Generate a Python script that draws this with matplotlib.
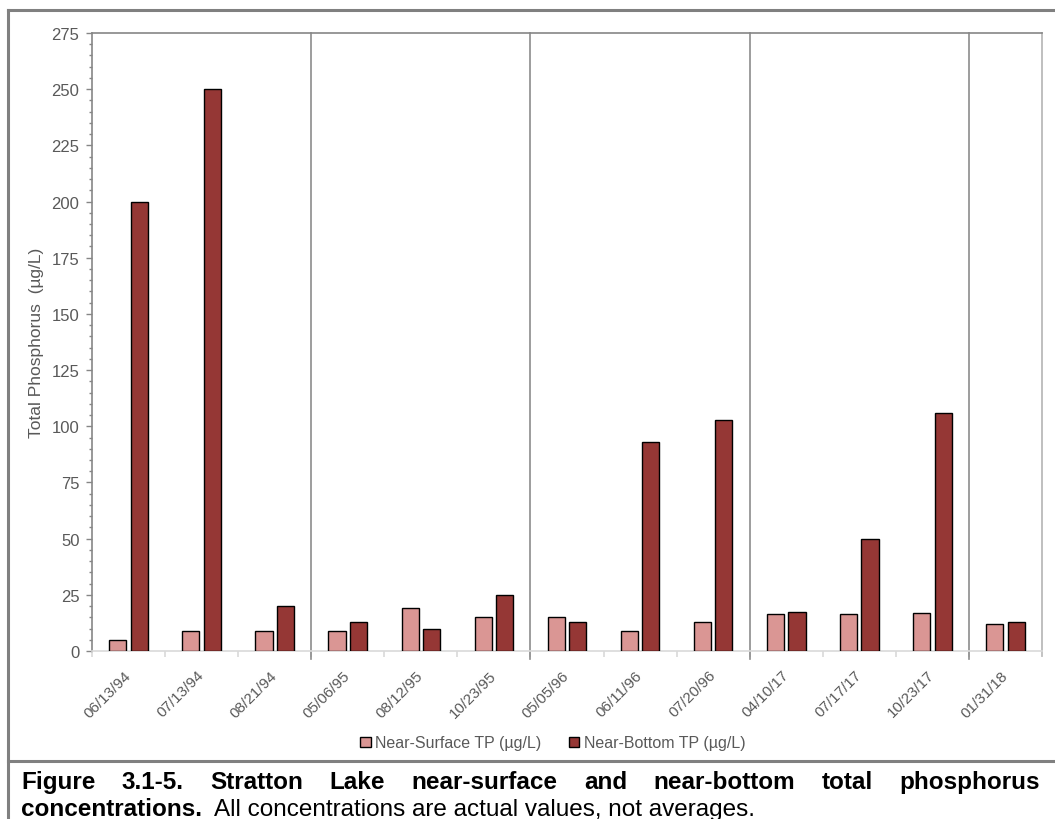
import matplotlib
matplotlib.use('Agg')
import matplotlib.pyplot as plt
import matplotlib.transforms as mtransforms
from matplotlib.lines import Line2D
import numpy as np

plt.rcParams['font.family'] = ['Liberation Sans', 'DejaVu Sans']

# sampling dates and TP values (ug/L)
dates = ['06/13/94', '07/13/94', '08/21/94', '05/06/95', '08/12/95', '10/23/95',
         '05/05/96', '06/11/96', '07/20/96', '04/10/17', '07/17/17', '10/23/17', '01/31/18']
near_surface = [5, 9, 9, 9, 19, 15, 15, 9, 13, 16.5, 16.5, 17, 12]
near_bottom = [200, 250, 20, 13, 10, 25, 13, 93, 103, 17.5, 50, 106, 13]
# index boundaries between sampling years
year_breaks = [2.5, 5.5, 8.5, 11.5]

grey_txt = '#595959'
fig = plt.figure(figsize=(10.55, 8.2), dpi=100)
ax = fig.add_axes([92 / 1055, 168 / 820, 950 / 1055, 618 / 820])

x = np.arange(len(dates))
w = 0.235
ax.bar(x - 0.147, near_surface, w, color='#DA9694', edgecolor='black', linewidth=1.0,
       label='Near-Surface TP (µg/L)', zorder=3)
ax.bar(x + 0.147, near_bottom, w, color='#953735', edgecolor='black', linewidth=1.0,
       label='Near-Bottom TP (µg/L)', zorder=3)

ax.set_xlim(-0.5, len(dates) - 0.5)
ax.set_ylim(0, 275)
ax.set_yticks(np.arange(0, 276, 25))
ax.set_yticks(np.arange(0, 276, 5), minor=True)
ax.tick_params(axis='y', which='major', direction='out', length=4, width=1, color='#868686',
               labelsize=12, labelcolor=grey_txt, pad=5)
ax.tick_params(axis='y', which='minor', direction='out', length=2.5, width=1, color='#868686')

ax.set_xticks(x)
ax.set_xticklabels(dates, rotation=45, ha='right', va='top', rotation_mode='anchor')
ax.set_xticks(np.arange(-0.5, len(dates), 1), minor=True)
ax.tick_params(axis='x', which='major', length=0, labelsize=11, labelcolor=grey_txt, pad=12)
ax.tick_params(axis='x', which='minor', direction='out', length=4, width=1.2, color='#D9D9D9')
offset = mtransforms.ScaledTranslation(-5 / 100, 0, fig.dpi_scale_trans)
for lab in ax.get_xticklabels():
    lab.set_transform(lab.get_transform() + offset)

for side, col in [('left', '#868686'), ('top', '#868686'), ('bottom', '#D9D9D9'), ('right', '#BFBFBF')]:
    ax.spines[side].set_color(col)
    ax.spines[side].set_linewidth(1.2)

# year separators run a little below the axis
for xb in year_breaks:
    ax.plot([xb, xb], [-0.013, 1], color='#8C8C8C', linewidth=1.2,
            transform=ax.get_xaxis_transform(), clip_on=False, zorder=2)
ax.plot([len(dates) - 0.5] * 2, [-0.008, 1], color='#BFBFBF', linewidth=1.2,
        transform=ax.get_xaxis_transform(), clip_on=False, zorder=2)

ax.set_ylabel('Total Phosphorus  (µg/L)', fontsize=12.5, color=grey_txt)
ax.yaxis.set_label_coords(-0.05, 0.5)

leg = fig.legend(loc='center', bbox_to_anchor=(553 / 1055, 1 - 744 / 820), ncol=2, frameon=False,
                 fontsize=11.5, handlelength=0.65, handleheight=0.65, handletextpad=0.3,
                 columnspacing=1.7)
for t in leg.get_texts():
    t.set_color(grey_txt)

# outer frame lines
frame_col = '#808080'
fig.add_artist(Line2D([8 / 1055, 8 / 1055], [0, 1 - 11 / 820], color=frame_col, linewidth=2.2,
                      transform=fig.transFigure))
fig.add_artist(Line2D([8 / 1055, 1], [1 - 11 / 820] * 2, color=frame_col, linewidth=2.2,
                      transform=fig.transFigure))
fig.add_artist(Line2D([8 / 1055, 1], [1 - 762 / 820] * 2, color=frame_col, linewidth=2.2,
                      transform=fig.transFigure))

# caption, first line justified
fig.canvas.draw()
renderer = fig.canvas.get_renderer()
words = ['Figure', '3.1-5.', 'Stratton', 'Lake', 'near-surface', 'and', 'near-bottom',
         'total', 'phosphorus']
left_px, right_px = 21, 1040
y1 = 1 - 789 / 820
arts = [fig.text(0, y1, wd, fontsize=17.5, fontweight='bold', va='baseline', ha='left')
        for wd in words]
widths = [a.get_window_extent(renderer).width for a in arts]
gap = (right_px - left_px - sum(widths)) / (len(words) - 1)
pos = left_px
for a, wdt in zip(arts, widths):
    a.set_x(pos / 1055)
    pos += wdt + gap

y2 = 1 - 816 / 820
t1 = fig.text(left_px / 1055, y2, 'concentrations.', fontsize=17.5, fontweight='bold',
              va='baseline', ha='left')
w1 = t1.get_window_extent(renderer).width
fig.text((left_px + w1 + 12) / 1055, y2, 'All concentrations are actual values, not averages.',
         fontsize=17.5, va='baseline', ha='left')

plt.savefig('out.png', dpi=100)
